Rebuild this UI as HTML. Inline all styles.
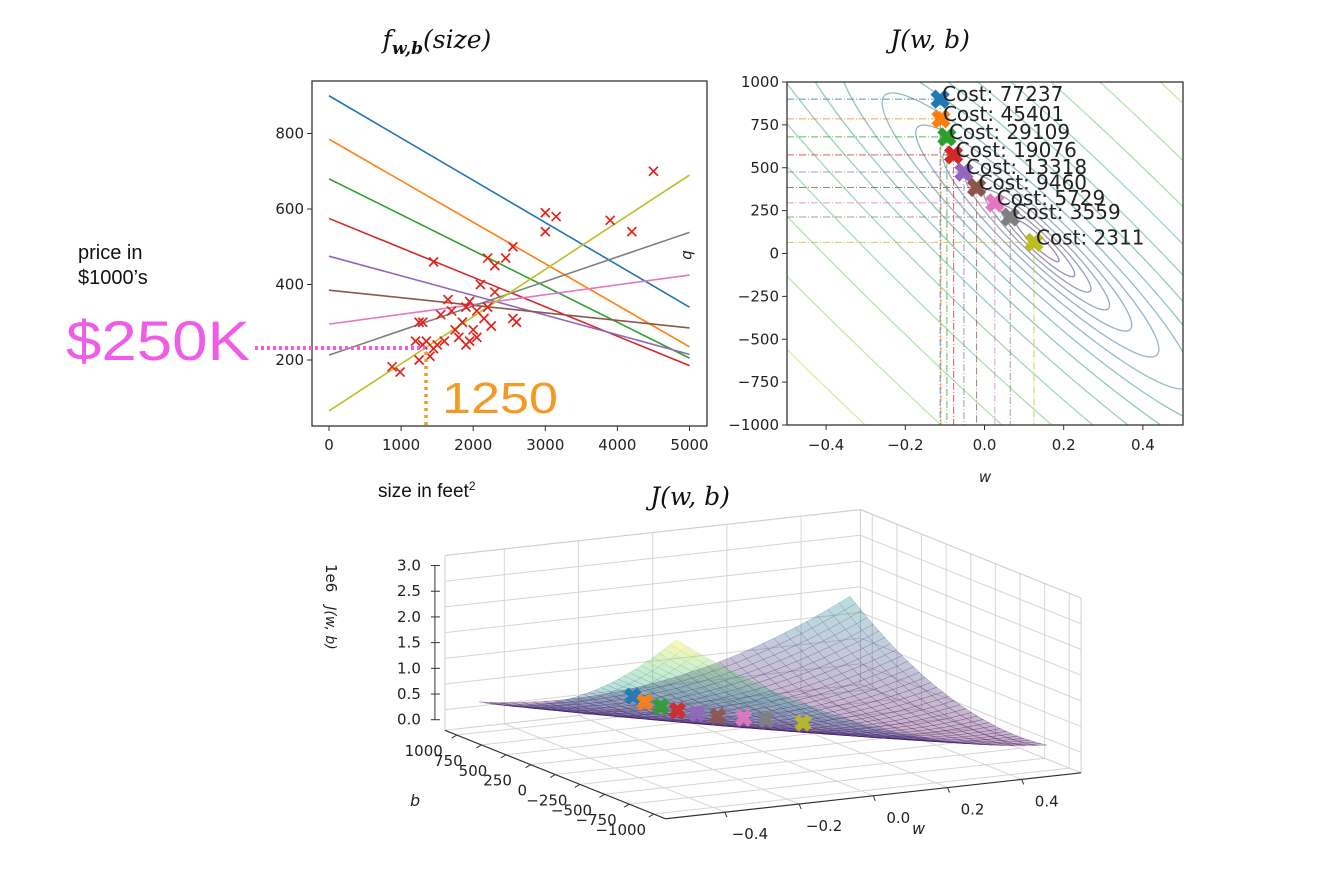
<!DOCTYPE html>
<html><head><meta charset="utf-8"><style>
html,body{margin:0;padding:0;background:#fff;overflow:hidden;width:1318px;height:871px;}
svg{display:block;font-family:"DejaVu Sans","Liberation Sans",sans-serif;}
</style></head><body>
<svg id="s" width="1318" height="871" viewBox="0 0 1318 871" xmlns="http://www.w3.org/2000/svg">
<defs>
<clipPath id="clipL"><rect x="312" y="81" width="395" height="345"/></clipPath>
<clipPath id="clipR"><rect x="787" y="82" width="396" height="343"/></clipPath>
</defs>
<text x="437" y="48" text-anchor="middle" font-family="DejaVu Serif, Liberation Serif, serif" font-style="italic" font-size="25" fill="#111">f<tspan font-size="17" dy="6" font-weight="bold">w,b</tspan><tspan dy="-6">(size)</tspan></text>
<text x="930" y="48" text-anchor="middle" font-family="DejaVu Serif, Liberation Serif, serif" font-style="italic" font-size="25" fill="#111">J(w, b)</text>
<text x="690" y="505" text-anchor="middle" font-family="DejaVu Serif, Liberation Serif, serif" font-style="italic" font-size="25" fill="#111">J(w, b)</text>
<text x="78" y="259" font-family="Liberation Sans, sans-serif" font-size="20" fill="#111">price in</text>
<text x="78" y="284" font-family="Liberation Sans, sans-serif" font-size="20" fill="#111">$1000’s</text>
<text x="378" y="497" font-family="Liberation Sans, sans-serif" font-size="19" fill="#111">size in feet<tspan font-size="12" dy="-7">2</tspan></text>
<g id="gL"></g>
<g id="gR"></g>
<g id="g3"></g>
<text x="66" y="360" font-family="Liberation Sans, sans-serif" font-size="56" fill="#ee5ce8" textLength="184" lengthAdjust="spacingAndGlyphs">$250K</text>
<text x="442" y="413" font-family="Liberation Sans, sans-serif" font-size="44" fill="#f39a25" textLength="116" lengthAdjust="spacingAndGlyphs">1250</text>
</svg>
<script>
const NS='http://www.w3.org/2000/svg';
// ---- data ----
const houseSizes=[875,986,1200,1250,1300,1350,1250,1400,1450,1500,1550,1650,1700,1800,1850,1900,1950,2000,2050,2100,2200,2200,2300,2250,2450,2550,2550,2600,3000,3000,3150,3900,4200,4500,1450,1900,2050,2150,1750,1950,2300,1300,1600];
const housePrices=[182,168,250,300,300,250,200,210,230,240,320,360,330,260,300,340,250,280,260,400,340,470,450,290,470,500,310,300,540,590,580,570,540,700,460,240,330,310,280,355,380,240,250];
const iterW=[-0.112,-0.11,-0.095,-0.078,-0.052,-0.02,0.026,0.065,0.125];
const iterB=[900,785,680,575,475,385,295,213,65];
const iterCost=[77237,45401,29109,19076,13318,9460,5729,3559,2311];
const iterColors=['#1f77b4','#ff7f0e','#2ca02c','#d62728','#9467bd','#8c564b','#e377c2','#7f7f7f','#bcbd22'];
const xTicksL=[0,1000,2000,3000,4000,5000];
const yTicksL=[200,400,600,800];
const wTicks=[-0.4,-0.2,0.0,0.2,0.4];
const bTicks=[1000,750,500,250,0,-250,-500,-750,-1000];
const zTicks=[0,0.5,1.0,1.5,2.0,2.5,3.0];
const bTickLabels=['1000','750','500','250','0','\u2212250','\u2212500','\u2212750','\u22121000'];

function mk(parent,tag,attrs,name,txt){
  const el=document.createElementNS(NS,tag);
  for(const k in attrs) el.setAttribute(k,attrs[k]);
  
  
  if(txt!==undefined) el.textContent=txt;
  parent.appendChild(el);
  return el;
}
function fmt(v,d){let s=v.toFixed(d);return s.replace('-','\u2212');}
function viridis(t){
  const st=[[68,1,84],[59,82,139],[33,145,140],[94,201,98],[253,231,37]];
  t=Math.max(0,Math.min(1,t));const p=t*4,i=Math.min(3,Math.floor(p)),f=p-i;
  const c=st[i].map((v,j)=>Math.round(v+(st[i+1][j]-v)*f));return 'rgb('+c.join(',')+')';
}
function xMarkPts(cx,cy,r){
  const t=0.36,base=[[-t,-1],[t,-1],[t,-t],[1,-t],[1,t],[t,t],[t,1],[-t,1],[-t,t],[-1,t],[-1,-t],[-t,-t]];
  const c=Math.SQRT1_2;
  return base.map(p=>[(cx+r*(p[0]*c-p[1]*c)).toFixed(1),(cy+r*(p[0]*c+p[1]*c)).toFixed(1)].join(',')).join(' ');
}

// ---- left plot ----
const gL=document.getElementById('gL');
const sx=x=>329+x*0.0721, sy=y=>435.5-y*0.3775;
mk(gL,'rect',{x:312,y:81,width:395,height:345,fill:'#fff',stroke:'#333','stroke-width':1.3},'plot-frame');
xTicksL.forEach(v=>{mk(gL,'line',{x1:sx(v),x2:sx(v),y1:426,y2:431,stroke:'#333'},'x-tick');
  mk(gL,'text',{x:sx(v),y:450,'text-anchor':'middle','font-size':15,fill:'#222'},'x-tick-label',String(v));});
yTicksL.forEach(v=>{mk(gL,'line',{x1:307,x2:312,y1:sy(v),y2:sy(v),stroke:'#333'},'y-tick');
  mk(gL,'text',{x:304,y:sy(v)+5,'text-anchor':'end','font-size':15,fill:'#222'},'y-tick-label',String(v));});
const gLc=mk(gL,'g',{'clip-path':'url(#clipL)'},'plot-area');
iterW.forEach((w,i)=>{const b=iterB[i];
  mk(gLc,'line',{x1:sx(0),y1:sy(b),x2:sx(5000),y2:sy(b+w*5000),stroke:iterColors[i],'stroke-width':1.6},'model-line-'+i);});
houseSizes.forEach((x,i)=>{const cx=sx(x),cy=sy(housePrices[i]),r=4.5;
  mk(gLc,'path',{d:`M${cx-r},${cy-r}L${cx+r},${cy+r}M${cx-r},${cy+r}L${cx+r},${cy-r}`,stroke:'#e3231c','stroke-width':1.7,fill:'none'},'data-point');});
mk(gL,'line',{x1:255,y1:348,x2:425,y2:348,stroke:'#ee5ce8','stroke-width':4,'stroke-dasharray':'3,3'},'price-guide');
mk(gL,'line',{x1:426,y1:352,x2:426,y2:425,stroke:'#f39a25','stroke-width':3.5,'stroke-dasharray':'3,4'},'size-guide');

// ---- contour plot ----
const gR=document.getElementById('gR');
const cx_=w=>984.5+w*396, cy_=b=>253.5-b*0.1715;
mk(gR,'rect',{x:787,y:82,width:396,height:343,fill:'#fff'},'contour-bg');
const m=houseSizes.length;
let Sx=0,Sxx=0,Sy=0,Sxy=0,Syy=0;
for(let i=0;i<m;i++){const x=houseSizes[i],y=housePrices[i];Sx+=x;Sxx+=x*x;Sy+=y;Sxy+=x*y;Syy+=y*y;}
Sx/=m;Sxx/=m;Sy/=m;Sxy/=m;Syy/=m;
const Jf=(w,b)=>0.5*(w*w*Sxx+b*b+Syy+2*w*b*Sx-2*w*Sxy-2*b*Sy);
const det=Sxx-Sx*Sx, w0=(Sxy-Sx*Sy)/det, b0=(Sxx*Sy-Sx*Sxy)/det, J0=Jf(w0,b0);
const A=Sxx/2,B=Sx/2,C=0.5;
const tr=A+C, dd=Math.sqrt((A-C)*(A-C)/4+B*B);
const l1=tr/2+dd, l2=tr/2-dd;
let e1=[B,l1-A]; let n1=Math.hypot(e1[0],e1[1]); e1=[e1[0]/n1,e1[1]/n1];
const e2=[-e1[1],e1[0]];
const gRc=mk(gR,'g',{'clip-path':'url(#clipR)'},'contour-area');
const levels=[];for(let k=0;k<=17;k++)levels.push(Math.pow(10,3.3+0.2*k));
levels.forEach((L,k)=>{ if(L<=J0) return;
  const a1=Math.sqrt((L-J0)/l1),a2=Math.sqrt((L-J0)/l2);let d='';
  for(let j=0;j<=720;j++){const th=j/720*2*Math.PI;
    const w=w0+a1*Math.cos(th)*e1[0]+a2*Math.sin(th)*e2[0];
    const b=b0+a1*Math.cos(th)*e1[1]+a2*Math.sin(th)*e2[1];
    d+=(j?'L':'M')+cx_(w).toFixed(1)+','+cy_(b).toFixed(1);}
  mk(gRc,'path',{d:d,fill:'none',stroke:viridis(k/17),'stroke-opacity':0.5,'stroke-width':1.3},'contour-line');});
iterW.forEach((w,i)=>{const px=cx_(w),py=cy_(iterB[i]);
  mk(gRc,'line',{x1:787,y1:py,x2:px,y2:py,stroke:iterColors[i],'stroke-width':1,'stroke-dasharray':'7,2,1,2','stroke-opacity':0.75},'b-guide');
  mk(gRc,'line',{x1:px,y1:py,x2:px,y2:425,stroke:iterColors[i],'stroke-width':1,'stroke-dasharray':'7,2,1,2','stroke-opacity':0.75},'w-guide');});
iterW.forEach((w,i)=>{const px=cx_(w),py=cy_(iterB[i]);
  mk(gR,'polygon',{points:xMarkPts(px,py,10),fill:iterColors[i]},'iteration-marker');
  mk(gR,'text',{x:px+2,y:py+2,'font-size':20,fill:'#222'},'cost-label','Cost: '+iterCost[i]);});
mk(gR,'rect',{x:787,y:82,width:396,height:343,fill:'none',stroke:'#333','stroke-width':1.3},'contour-frame');
wTicks.forEach(v=>{mk(gR,'line',{x1:cx_(v),x2:cx_(v),y1:425,y2:430,stroke:'#333'},'w-tick');
  mk(gR,'text',{x:cx_(v),y:450,'text-anchor':'middle','font-size':15,fill:'#222'},'w-tick-label',fmt(v,1));});
bTicks.forEach(v=>{mk(gR,'line',{x1:782,x2:787,y1:cy_(v),y2:cy_(v),stroke:'#333'},'b-tick');
  mk(gR,'text',{x:779,y:cy_(v)+5,'text-anchor':'end','font-size':15,fill:'#222'},'b-tick-label',String(v).replace('-','\u2212'));});
mk(gR,'text',{x:985,y:482,'text-anchor':'middle','font-size':15,'font-style':'italic',fill:'#222'},'w-axis-title','w');
mk(gR,'text',{x:0,y:0,'text-anchor':'middle','font-size':15,'font-style':'italic',fill:'#222',transform:'translate(683,255) rotate(90)'},'b-axis-title','b');

// ---- 3D surface ----
const g3=document.getElementById('g3');
const P=(w,b,z)=>[763+w*371+(b/1000)*(-98.5), 731+w*(-41)+(b/1000)*(-39.5)-z/1e6*51.4];
const wL=-0.56,wH=0.56,bL=-1120,bH=1120,zL=-0.4e6,zH=3.0e6;
const ln=(p,q,st,name,sw)=>mk(g3,'line',{x1:p[0],y1:p[1],x2:q[0],y2:q[1],stroke:st,'stroke-width':sw||1},name);
const grid='#d6d6d6';
zTicks.forEach(z=>{ln(P(wL,bH,z*1e6),P(wH,bH,z*1e6),grid,'grid-z-back');ln(P(wH,bH,z*1e6),P(wH,bL,z*1e6),grid,'grid-z-right');});
wTicks.forEach(w=>{ln(P(w,bH,zL),P(w,bH,zH),grid,'grid-w-back');ln(P(w,bL,zL),P(w,bH,zL),grid,'grid-w-floor');});
bTicks.forEach(b=>{ln(P(wH,b,zL),P(wH,b,zH),grid,'grid-b-right');ln(P(wL,b,zL),P(wH,b,zL),grid,'grid-b-floor');});
[[P(wL,bH,zH),P(wH,bH,zH)],[P(wH,bH,zH),P(wH,bL,zH)],[P(wH,bH,zL),P(wH,bH,zH)],[P(wH,bL,zL),P(wH,bL,zH)],[P(wL,bH,zL),P(wL,bH,zH)],[P(wL,bH,zL),P(wH,bH,zL)],[P(wH,bH,zL),P(wH,bL,zL)]].forEach(e=>ln(e[0],e[1],'#cfcfcf','pane-edge'));
const N=34,quads=[];let zmax=0;
const gw=i=>-0.5+i/N, gb=j=>-1000+2000*j/N;
for(let i=0;i<=N;i++)for(let j=0;j<=N;j++)zmax=Math.max(zmax,Jf(gw(i),gb(j)));
for(let i=0;i<N;i++)for(let j=0;j<N;j++){
  const c=[[gw(i),gb(j)],[gw(i+1),gb(j)],[gw(i+1),gb(j+1)],[gw(i),gb(j+1)]];
  const zs=c.map(p=>Jf(p[0],p[1]));const za=(zs[0]+zs[1]+zs[2]+zs[3])/4;
  quads.push({c:c,zs:zs,za:za,key:(i+j)});}
quads.sort((a,b)=>b.key-a.key);
const gs=mk(g3,'g',{},'cost-surface');
quads.forEach(q=>{const col=viridis(q.za/zmax);
  const pts=q.c.map((p,k)=>P(p[0],p[1],q.zs[k]).map(v=>v.toFixed(1)).join(',')).join(' ');
  mk(gs,'polygon',{points:pts,fill:col,'fill-opacity':0.3,stroke:col,'stroke-opacity':0.35,'stroke-width':0.5},'surface-patch');});
iterW.forEach((w,i)=>{const p=P(w,iterB[i],iterCost[i]);
  mk(g3,'polygon',{points:xMarkPts(p[0],p[1],9),fill:iterColors[i],'fill-opacity':0.9},'surface-marker');});
const ax='#333';
const zo=[-10,10];
const zA=z=>{const p=P(wL,bH,z);return [p[0]+zo[0],p[1]+zo[1]];};
ln(zA(0),zA(3e6),ax,'z-axis-line');
zTicks.forEach(z=>{const p=zA(z*1e6);ln([p[0]-4,p[1]],[p[0]+5,p[1]],ax,'z-tick');
  mk(g3,'text',{x:p[0]-14,y:p[1]+5,'text-anchor':'end','font-size':15,fill:'#222'},'z-tick-label',z.toFixed(1));});
mk(g3,'text',{x:0,y:0,'font-size':15,fill:'#222',transform:'translate(326,564) rotate(90)'},'z-scale-label','1e6');
mk(g3,'text',{x:0,y:0,'font-size':14,'font-style':'italic',fill:'#222','text-anchor':'middle',transform:'translate(326,628) rotate(90)'},'z-axis-title','J(w, b)');
ln(P(wL,bH,zL),P(wL,bL,zL),ax,'b-axis-line',1.2);
bTicks.forEach((b,k)=>{const p=P(wL,b,zL);ln(p,[p[0]-5,p[1]+3],ax,'b-tick');
  mk(g3,'text',{x:p[0]-33,y:p[1]+21,'text-anchor':'middle','font-size':15,fill:'#222'},'b-tick-label',bTickLabels[k]);});
mk(g3,'text',{x:410,y:806,'font-size':16,'font-style':'italic',fill:'#222'},'b-axis-title-3d','b');
ln(P(wL,bL,zL),P(wH,bL,zL),ax,'w-axis-line',1.2);
wTicks.forEach(w=>{const p=P(w,bL,zL);ln(p,[p[0]+2,p[1]+5],ax,'w-tick');
  mk(g3,'text',{x:p[0]+25,y:p[1]+27,'text-anchor':'middle','font-size':15,fill:'#222'},'w-tick-label-3d',fmt(w,1));});
mk(g3,'text',{x:912,y:834,'font-size':16,'font-style':'italic',fill:'#222'},'w-axis-title-3d','w');
</script>
</body></html>
